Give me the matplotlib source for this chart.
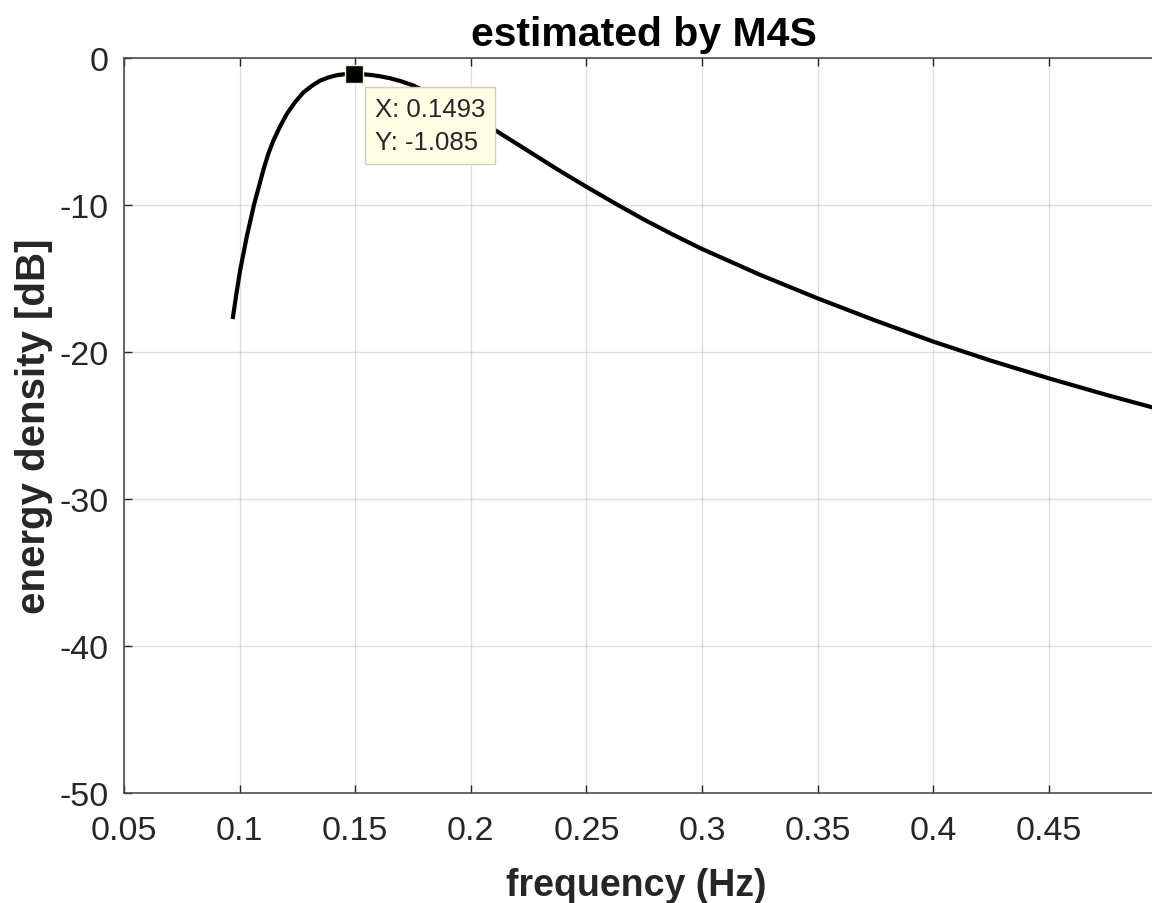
import matplotlib
matplotlib.use("Agg")
import matplotlib.pyplot as plt

# Spectrum estimate (frequency in Hz, energy density in dB)
freq = [0.0970, 0.0986, 0.1002, 0.1031, 0.1062, 0.1103, 0.1125, 0.1146, 0.1175,
        0.1204, 0.1240, 0.1276, 0.1312, 0.1348, 0.1385, 0.1420, 0.1455, 0.1493,
        0.1530, 0.1570, 0.1610, 0.1650, 0.1700, 0.1751, 0.1850, 0.1950, 0.2025,
        0.2100, 0.2175, 0.2250, 0.2375, 0.2500, 0.2625, 0.2750, 0.2875, 0.3000,
        0.3250, 0.3500, 0.3750, 0.4000, 0.4250, 0.4500, 0.4750, 0.5000]
density_db = [-17.76, -16.05, -14.47, -12.15, -10.0, -7.6, -6.48, -5.62, -4.66,
              -3.81, -3.0, -2.34, -1.9, -1.54, -1.32, -1.17, -1.10, -1.085,
              -1.10, -1.157, -1.25, -1.375, -1.59, -1.87, -2.6, -3.45, -4.14,
              -4.86, -5.6, -6.34, -7.58, -8.76, -9.9, -11.0, -12.02, -12.99,
              -14.74, -16.35, -17.86, -19.29, -20.59, -21.79, -22.92, -23.99]

# Data tip at the spectral peak
peak_f = 0.1493
peak_db = -1.085

x_ticks = [0.05, 0.1, 0.15, 0.2, 0.25, 0.3, 0.35, 0.4, 0.45]
x_tick_labels = ["0.05", "0.1", "0.15", "0.2", "0.25", "0.3", "0.35", "0.4", "0.45"]
y_ticks = [-50, -40, -30, -20, -10, 0]
y_tick_labels = ["-50", "-40", "-30", "-20", "-10", "0"]

FONT = ["Liberation Sans", "DejaVu Sans"]
AX_COLOR = "#262626"

plt.rcParams["font.family"] = FONT

fig = plt.figure(figsize=(11.52, 9.04), dpi=100)
fig.patch.set_facecolor("white")
ax = fig.add_axes([124 / 1152, 110 / 904, 1040.4 / 1152, 735 / 904])

ax.plot(freq, density_db, color="black", linewidth=3.0, solid_joinstyle="round",
        solid_capstyle="butt", zorder=3)

ax.set_xlim(0.05, 0.5)
ax.set_ylim(-50, 0)
ax.set_xticks(x_ticks)
ax.set_xticklabels(x_tick_labels)
ax.set_yticks(y_ticks)
ax.set_yticklabels(y_tick_labels)

ax.grid(True, color=AX_COLOR, alpha=0.15, linewidth=1.0)
ax.set_axisbelow(True)
for sp in ax.spines.values():
    sp.set_color("#4d4d4d")
    sp.set_linewidth(1.2)

ax.tick_params(direction="in", length=6, width=1.0, colors=AX_COLOR,
               labelsize=24.5, top=True, right=True)
ax.tick_params(axis="x", pad=16)
ax.tick_params(axis="y", pad=11)

ax.set_title("estimated by M4S", fontsize=29.5, fontweight="bold", pad=9,
             color="black")
ax.set_xlabel("frequency (Hz)", fontsize=27, fontweight="bold", labelpad=15,
              color=AX_COLOR, x=0.4923)
ax.set_ylabel("energy density [dB]", fontsize=29, fontweight="bold", labelpad=5,
              color=AX_COLOR)

# Peak marker and data tip
ax.plot([peak_f], [peak_db], marker="s", markersize=13, markerfacecolor="black",
        markeredgecolor="#f2f2d0", markeredgewidth=1.0, linestyle="none", zorder=5)
ax.annotate(f"X: {peak_f:.4g}\nY: {peak_db:.4g}",
            xy=(peak_f, peak_db), xytext=(15.5, -16.5), textcoords="offset points",
            ha="left", va="top", fontsize=18.5, color=AX_COLOR, linespacing=1.47,
            bbox=dict(boxstyle="square,pad=0.38", facecolor="#ffffe6",
                      edgecolor="#cfcfc0", linewidth=1.0),
            zorder=6)

fig.savefig("out.png", dpi=100, facecolor="white")
